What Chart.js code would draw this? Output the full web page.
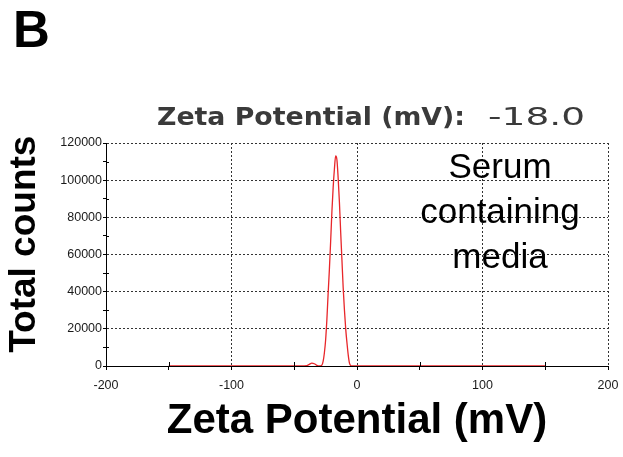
<!DOCTYPE html>
<html>
<head>
<meta charset="utf-8">
<title>Zeta potential</title>
<script src="https://cdn.jsdelivr.net/npm/chart.js@4"></script>
<style>
  html, body { margin: 0; padding: 0; background: #fff; }
</style>
</head>
<body>
<canvas id="zetaChart" width="623" height="457"></canvas>
<script>
const panelLabel = 'B';
const headerLabel = 'Zeta Potential (mV):';
const headerValue = '-18.0';
const sampleLines = ['Serum', 'containing', 'media'];

// zeta potential (mV) vs total counts
const zeta = [-150, -45, -40, -38, -36, -34, -32, -30,
  -28, -27, -26, -25, -24, -23, -22, -21, -20, -19, -18, -17, -16,
  -15, -14, -13, -12, -11, -10, -9, -8, -7, -6, -5, -4, 150];
const counts = [0, 0, 200, 900, 1500, 1200, 300, 0,
  500, 2500, 7000, 14000, 25000, 39000, 52000, 67000, 83000, 96000, 106000, 113000, 111000,
  101000, 88000, 72000, 57000, 42000, 30000, 20000, 12500, 6000, 1500, 200, 0, 0];

function stretchText(ctx, text, x, y, targetWidth) {
  const w = ctx.measureText(text).width;
  ctx.save();
  ctx.translate(x, y);
  ctx.scale(targetWidth / w, 1);
  ctx.fillText(text, 0, 0);
  ctx.restore();
}

const annotate = {
  id: 'annotate',
  afterDraw(chart) {
    const ctx = chart.ctx;
    const { x, y } = chart.scales;
    const area = chart.chartArea;
    ctx.save();

    // minor ticks cross the axes into the plot
    ctx.strokeStyle = '#000';
    ctx.lineWidth = 1;
    ctx.beginPath();
    y.ticks.forEach(t => {
      if (t.value % 20000 === 0) return;
      const py = Math.round(y.getPixelForValue(t.value)) + 0.5;
      ctx.moveTo(area.left, py);
      ctx.lineTo(area.left + 3, py);
    });
    x.ticks.forEach(t => {
      if (t.value % 100 === 0) return;
      const px = Math.round(x.getPixelForValue(t.value)) + 0.5;
      ctx.moveTo(px, area.bottom);
      ctx.lineTo(px, area.bottom - 4);
    });
    ctx.stroke();

    ctx.textBaseline = 'alphabetic';
    ctx.fillStyle = '#000';
    ctx.font = 'bold 51px "Liberation Sans"';
    ctx.fillText(panelLabel, 13, 47);

    ctx.fillStyle = '#3a3a3a';
    ctx.font = 'bold 24px "DejaVu Sans"';
    stretchText(ctx, headerLabel, 157, 125, 308);
    ctx.font = '24px "DejaVu Sans"';
    stretchText(ctx, headerValue, 488, 125, 97);

    ctx.fillStyle = '#000';
    ctx.font = '35px "Liberation Sans"';
    ctx.textAlign = 'center';
    sampleLines.forEach((t, i) => ctx.fillText(t, 500, 178 + i * 45));
    ctx.restore();
  }
};

Chart.defaults.font.family = '"Liberation Sans", Arial, sans-serif';

const chart = new Chart(document.getElementById('zetaChart').getContext('2d'), {
  type: 'line',
  data: {
    datasets: [{
      data: zeta.map((z, i) => ({ x: z, y: counts[i] })),
      borderColor: '#e8262a',
      borderWidth: 1.3,
      pointRadius: 0,
      fill: false,
      cubicInterpolationMode: 'monotone'
    }]
  },
  options: {
    responsive: false,
    animation: false,
    layout: { padding: { top: 143, right: 15, left: 0, bottom: 0 } },
    plugins: { legend: { display: false }, tooltip: { enabled: false } },
    scales: {
      x: {
        type: 'linear',
        min: -200,
        max: 200,
        afterFit: s => { s.height = 91; },
        ticks: {
          stepSize: 50,
          autoSkip: false,
          maxRotation: 0,
          padding: 4,
          color: '#1a1a1a',
          font: { size: 12.5, lineHeight: 1.9 },
          callback: v => (v % 100 === 0 ? String(v) : '')
        },
        grid: {
          color: c => (c.tick && c.tick.value % 100 === 0 && c.tick.value > -200) ? '#333' : 'rgba(0,0,0,0)',
          tickColor: '#000',
          tickLength: 4,
          lineWidth: 1
        },
        border: { display: true, color: '#000', width: 1, dash: [2, 2] },
        title: {
          display: true,
          text: 'Zeta Potential (mV)',
          color: '#000',
          font: { size: 42, weight: 'bold', lineHeight: 1.2 },
          padding: { top: 0, bottom: 10 }
        }
      },
      y: {
        min: 0,
        max: 120000,
        afterFit: s => { s.width = 106; },
        ticks: {
          stepSize: 10000,
          autoSkip: false,
          padding: 1,
          color: '#1a1a1a',
          font: { size: 12.5 },
          callback: v => (v % 20000 === 0 ? String(v) : '')
        },
        grid: {
          color: c => (c.tick && c.tick.value % 20000 === 0 && c.tick.value > 0) ? '#333' : 'rgba(0,0,0,0)',
          tickColor: '#000',
          tickLength: 3,
          lineWidth: 1
        },
        border: { display: true, color: '#000', width: 1, dash: [2, 2] },
        title: {
          display: true,
          text: '  Total counts',
          color: '#000',
          font: { size: 37, weight: 'bold', lineHeight: 1.2 },
          padding: { top: 3, bottom: 0 }
        }
      }
    }
  },
  plugins: [annotate]
});
</script>
</body>
</html>
